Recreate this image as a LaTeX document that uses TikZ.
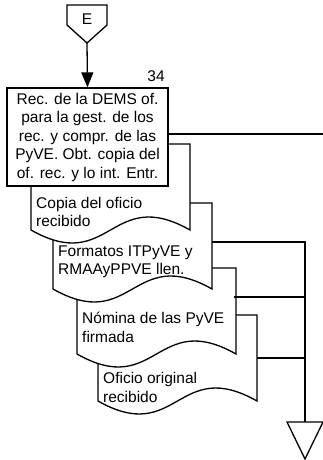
\documentclass[tikz,border=0pt]{standalone}
\usepackage{fontspec}
\setmainfont{Liberation Sans}
\usetikzlibrary{arrows.meta,positioning,calc}
\newcommand{\lbl}{\fontsize{15.5}{18.5}\selectfont}
\tikzset{
  procbox/.style={draw,fill=white,line width=1.3pt,minimum width=161pt,minimum height=98pt,inner sep=0pt,align=center,font=\lbl},
  doctext/.style={anchor=west,align=left,inner sep=0pt,font=\lbl},
  docshape/.style={draw,fill=white,line width=1.3pt},
  link/.style={line width=1.3pt},
  flow/.style={-{Triangle[length=15pt,width=12pt]},line width=1.3pt},
}

\begin{document}
\begin{tikzpicture}[x=1pt,y=-1pt]
    \useasboundingbox (0,0) rectangle (323,460);
    % off-page connector
    \draw[link] (67,5) -- (107,5) -- (107,25) -- (87,43) -- (67,25) -- cycle;
    \node[font=\lbl] (offE) at (87,19) {E};
    \coordinate (Etip) at (87,43);
    % documents, last one first so the earlier ones lie on top
    \foreach \L/\T/\n in {98/315/4, 77/268/3, 53/203/2, 31/144/1}{
      \draw[docshape] (\L,\T) -- ++(159,0) -- ++(0,86)
        .. controls ++(-79.5,-45) and ($(\L,\T)+(79.5,131)$) .. ($(\L,\T)+(0,86)$) -- cycle;
    }
    \node[doctext] (doc1) at (36,212) {Copia del oficio\\recibido};
    \node[doctext] (doc2) at (58,262) {Formatos ITPyVE y\\RMAAyPPVE llen.};
    \node[doctext] (doc3) at (82,327.5) {Nómina de las PyVE\\firmada};
    \node[doctext] (doc4) at (103,387.5) {Oficio original\\recibido};
    % process
    \node[procbox] (proc) at (87.5,137) {Rec. de la DEMS of.\\para la gest. de los\\rec. y compr. de las\\PyVE. Obt. copia del\\of. rec. y lo int. Entr.};
    \node[font=\lbl,inner sep=0pt] (num) at (156,76) {34};
    \draw[flow] (Etip) -- (proc.north);
    \coordinate (offR) at (323,134);
    \draw[link] (proc.east |- offR) -- (offR);
    % archive
    \draw[link] (287,422) -- (323,422) -- (305,459) -- cycle;
    \coordinate (arch) at (305,422);
    \coordinate (d2r) at (212,242);
    \coordinate (d3r) at (234,297);
    \coordinate (d4r) at (257,358);
    \draw[link] (d2r) -- (d2r -| arch) -- (arch);
    \draw[link] (d3r) -- (d3r -| arch);
    \draw[link] (d4r) -- (d4r -| arch);
  \end{tikzpicture}
\end{document}
